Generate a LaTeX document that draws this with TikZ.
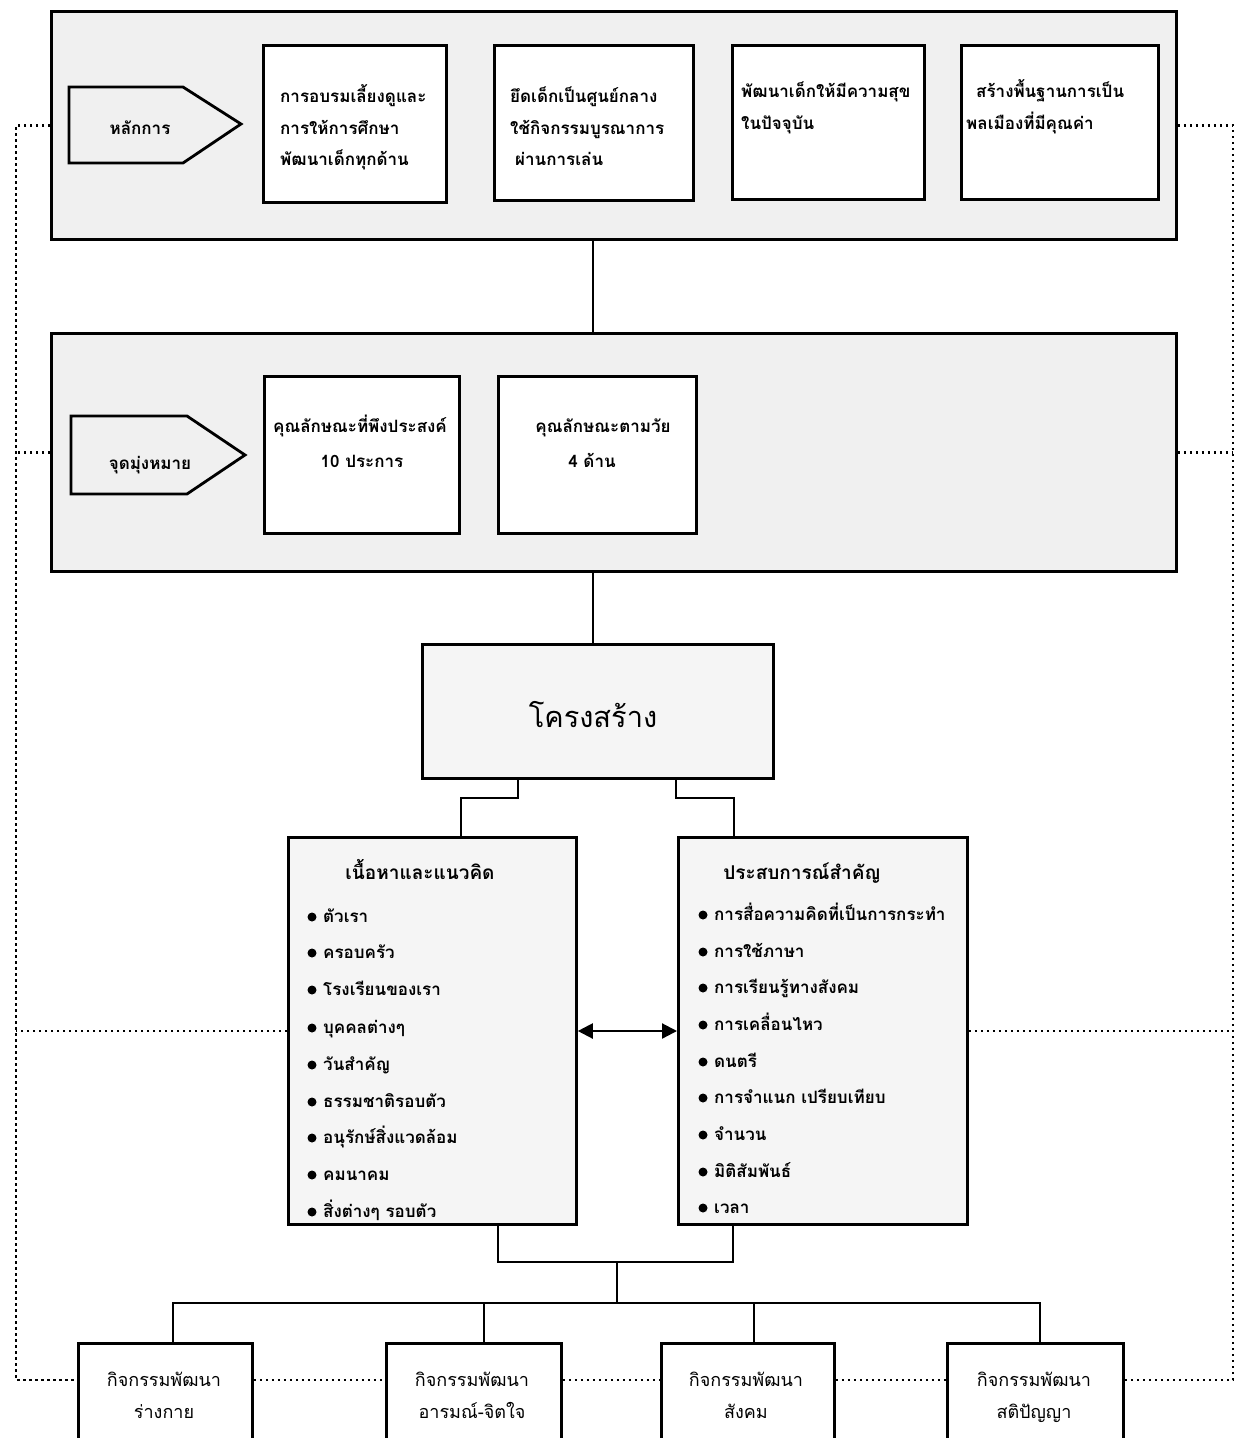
\documentclass[tikz,border=0pt]{standalone}
\usepackage{fontspec}
\newfontfamily\thai[Script=Thai]{Loma}
\usetikzlibrary{arrows.meta}
\begin{document}
\begin{tikzpicture}[x=1pt,y=-1pt,
  panel/.style={draw, line width=2.8pt, fill=black!6, inner sep=0pt, anchor=north west},
  wbox/.style={draw, line width=2.8pt, fill=white, inner sep=0pt, anchor=north west},
  gbox/.style={draw, line width=2.8pt, fill=black!4, inner sep=0pt, anchor=north west},
  conn/.style={line width=2.8pt},
  dots/.style={line width=2.2pt, dash pattern=on 2.2pt off 3.8pt},
  pointer/.style={draw, line width=2.8pt, fill=black!6, line join=miter},
  txt/.style={font=\thai\bfseries\fontsize{17}{20}\selectfont, inner sep=0pt, anchor=base west},
  ctxt/.style={txt, anchor=base},
  ttxt/.style={font=\thai\bfseries\fontsize{19}{22}\selectfont, inner sep=0pt, anchor=base},
  rtxt/.style={font=\thai\fontsize{18}{20}\selectfont, inner sep=0pt, anchor=base},
  bigtxt/.style={font=\thai\fontsize{29}{32}\selectfont, inner sep=0pt, anchor=base},
  bul/.style={circle, fill=black, inner sep=0pt, minimum size=9pt}
]
\useasboundingbox (0,0) rectangle (1237,1438);

% ---------- top panel ----------
\node[panel, minimum width=1125pt, minimum height=228pt] (p1) at (50,10) {};
\draw[pointer] (69,87) -- (183,87) -- (241,124) -- (183,163) -- (69,163) -- cycle;
\node[ctxt] (t_lak) at (140,134) {หลักการ};
\node[wbox, minimum width=183pt, minimum height=157pt] (b1) at (262,44) {};
\node[wbox, minimum width=199pt, minimum height=155pt] (b2) at (493,44) {};
\node[wbox, minimum width=192pt, minimum height=154pt] (b3) at (731,44) {};
\node[wbox, minimum width=197pt, minimum height=154pt] (b4) at (960,44) {};
\node[txt] (b1l1) at (280,102) {การอบรมเลี้ยงดูและ};
\node[txt] (b1l2) at (280,134) {การให้การศึกษา};
\node[txt] (b1l3) at (280,165) {พัฒนาเด็กทุกด้าน};
\node[txt] (b2l1) at (510,102) {ยึดเด็กเป็นศูนย์กลาง};
\node[txt] (b2l2) at (510,134) {ใช้กิจกรรมบูรณาการ};
\node[txt] (b2l3) at (515,165) {ผ่านการเล่น};
\node[txt] (b3l1) at (741,97) {พัฒนาเด็กให้มีความสุข};
\node[txt] (b3l2) at (741,129) {ในปัจจุบัน};
\node[txt] (b4l1) at (976,97) {สร้างพื้นฐานการเป็น};
\node[txt] (b4l2) at (966,129) {พลเมืองที่มีคุณค่า};

% ---------- middle panel ----------
\node[panel, minimum width=1125pt, minimum height=238pt] (p2) at (50,332) {};
\draw[pointer] (71,416) -- (187,416) -- (245,455) -- (187,494) -- (71,494) -- cycle;
\node[ctxt] (t_aim) at (150,469) {จุดมุ่งหมาย};
\node[wbox, minimum width=195pt, minimum height=157pt] (ma) at (263,375) {};
\node[wbox, minimum width=198pt, minimum height=157pt] (mb) at (497,375) {};
\node[ctxt] (mal1) at (360,432) {คุณลักษณะที่พึงประสงค์};
\node[ctxt] (mal2) at (362,467) {10 ประการ};
\node[ctxt] (mbl1) at (603,432) {คุณลักษณะตามวัย};
\node[ctxt] (mbl2) at (592,467) {4 ด้าน};

% ---------- structure ----------
\node[gbox, minimum width=351pt, minimum height=134pt] (s) at (421,643) {};
\node[bigtxt] (t_str) at (593,727) {โครงสร้าง};

% ---------- content boxes ----------
\node[gbox, minimum width=288pt, minimum height=387pt] (L) at (287,836) {};
\node[gbox, minimum width=289pt, minimum height=387pt] (R) at (677,836) {};
\node[ttxt] (Lt) at (420,879) {เนื้อหาและแนวคิด};
\node[ttxt] (Rt) at (802,879) {ประสบการณ์สำคัญ};

\foreach \i/\yy/\s in {1/917/ตัวเรา, 2/953/ครอบครัว, 3/990/โรงเรียนของเรา, 4/1028/บุคคลต่างๆ,
  5/1065/วันสำคัญ, 6/1102/ธรรมชาติรอบตัว, 7/1138/อนุรักษ์สิ่งแวดล้อม, 8/1175/คมนาคม, 9/1212/สิ่งต่างๆ รอบตัว}{
  \node[bul] (lb\i) at (312,\yy) {};
  \node[txt] (li\i) at (323,\yy+5) {\s};
}
\foreach \i/\yy/\s in {1/915/การสื่อความคิดที่เป็นการกระทำ, 2/952/การใช้ภาษา, 3/988/การเรียนรู้ทางสังคม, 4/1025/การเคลื่อนไหว,
  5/1062/ดนตรี, 6/1098/การจำแนก เปรียบเทียบ, 7/1135/จำนวน, 8/1172/มิติสัมพันธ์, 9/1208/เวลา}{
  \node[bul] (rb\i) at (703,\yy) {};
  \node[txt] (ri\i) at (714,\yy+5) {\s};
}

% ---------- bottom boxes ----------
\node[wbox, minimum width=174pt, minimum height=110pt] (B1) at (77,1342) {};
\node[wbox, minimum width=175pt, minimum height=110pt] (B2) at (385,1342) {};
\node[wbox, minimum width=173pt, minimum height=110pt] (B3) at (660,1342) {};
\node[wbox, minimum width=176pt, minimum height=110pt] (B4) at (946,1342) {};
\node[rtxt] (B1a) at (164,1386) {กิจกรรมพัฒนา};
\node[rtxt] (B1b) at (164,1418) {ร่างกาย};
\node[rtxt] (B2a) at (472,1386) {กิจกรรมพัฒนา};
\node[rtxt] (B2b) at (472,1418) {อารมณ์-จิตใจ};
\node[rtxt] (B3a) at (746,1386) {กิจกรรมพัฒนา};
\node[rtxt] (B3b) at (746,1418) {สังคม};
\node[rtxt] (B4a) at (1034,1386) {กิจกรรมพัฒนา};
\node[rtxt] (B4b) at (1034,1418) {สติปัญญา};

% ---------- solid connectors ----------
\coordinate (x593) at (593,0);
\draw[conn] (p1.south -| x593) -- (p2.north -| x593);
\draw[conn] (p2.south -| x593) -- (s.north -| x593);
\coordinate (c1) at (518,798);
\coordinate (c2) at (461,798);
\coordinate (c3) at (676,798);
\coordinate (c4) at (734,798);
\draw[conn] (s.south -| c1) -- (c1) -- (c2) -- (L.north -| c2);
\draw[conn] (s.south -| c3) -- (c3) -- (c4) -- (R.north -| c4);
\coordinate (c5) at (498,1262);
\coordinate (c6) at (733,1262);
\coordinate (c7) at (617,1262);
\coordinate (c8) at (617,1303);
\coordinate (h1) at (173,1303);
\coordinate (h2) at (484,1303);
\coordinate (h3) at (754,1303);
\coordinate (h4) at (1040,1303);
\draw[conn] (L.south -| c5) -- (c5) -- (c6) -- (R.south -| c6);
\draw[conn] (c7) -- (c8);
\draw[conn] (B1.north -| h1) -- (h1) -- (h4) -- (B4.north -| h4);
\draw[conn] (h2) -- (B2.north -| h2);
\draw[conn] (h3) -- (B3.north -| h3);
\coordinate (ya) at (0,1031);
\draw[line width=2.2pt, {Triangle[length=15pt,width=15pt]}-{Triangle[length=15pt,width=15pt]}] (L.east |- ya) -- (R.west |- ya);

% ---------- dotted connectors ----------
\coordinate (lx) at (16,0);
\coordinate (rx) at (1233,0);
\coordinate (t2) at (16,1380);
\coordinate (t4) at (1233,1380);
\draw[dots] (p1.west) -- (p1.west -| lx) -- (t2) -- (B1.west |- t2);
\draw[dots] (p2.west) -- (p2.west -| lx);
\draw[dots] (L.west) -- (L.west -| lx);
\draw[dots] (p1.east) -- (p1.east -| rx) -- (t4) -- (B4.east |- t4);
\draw[dots] (p2.east) -- (p2.east -| rx);
\draw[dots] (R.east) -- (R.east -| rx);
\draw[dots] (B1.east |- t2) -- (B2.west |- t2);
\draw[dots] (B2.east |- t2) -- (B3.west |- t2);
\draw[dots] (B3.east |- t2) -- (B4.west |- t2);
\end{tikzpicture}
\end{document}
